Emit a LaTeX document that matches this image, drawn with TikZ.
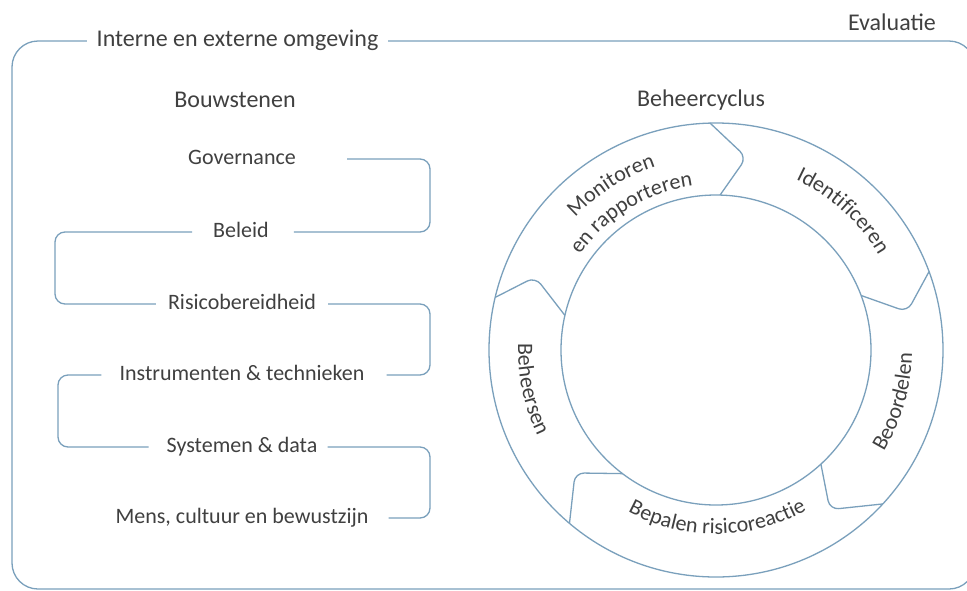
\documentclass[tikz,border=0pt]{standalone}
\usepackage{fontspec}
\setmainfont{Carlito}
\usetikzlibrary{decorations.text}
\definecolor{ln}{RGB}{122,160,188}
\definecolor{txt}{RGB}{64,64,64}
\newcommand\itemfont{\fontsize{22}{26}\selectfont}
\newcommand\headfont{\fontsize{24}{28}\selectfont}
\newcommand\ringfont{\fontsize{22}{26}\selectfont\color{txt}}
\begin{document}
\begin{tikzpicture}[x=1pt,y=1pt,
  conn/.style={draw=ln, line width=1.3pt, rounded corners=10pt},
  ringline/.style={draw=ln, line width=1.3pt},
  item/.style={text=txt, font=\itemfont, inner sep=0pt, text height=15pt, text depth=4pt},
  head/.style={text=txt, font=\headfont, inner sep=0pt},
  ringlab/.style={decorate, decoration={text along path, text align=center, text={|\ringfont|#1}}}
]
\useasboundingbox (0,0) rectangle (967,-590);
\fill[white] (0,0) rectangle (967,-590);

% frame
\draw[ln, line width=1.3pt, rounded corners=26pt] (12,-41) rectangle (975,-589);
\node[head, fill=white, inner xsep=10pt, inner ysep=2pt] (env) at (237.5,-40) {Interne en externe omgeving};
\node[head] (eval) at (892,-22) {Evaluatie};
\node[head] (bouw) at (235,-100) {Bouwstenen};
\node[head] (cyc) at (701,-100) {Beheercyclus};

% building blocks
\node[item] (gov) at (242,-159) {Governance};
\node[item] (bel) at (241,-232) {Beleid};
\node[item] (ris) at (242,-304) {Risicobereidheid};
\node[item] (ins) at (242,-375) {Instrumenten \& technieken};
\node[item] (sys) at (242,-447) {Systemen \& data};
\node[item] (mens) at (242,-518) {Mens, cultuur en bewustzijn};

\coordinate (R) at (430,0);
\coordinate (LA) at (55,0);
\coordinate (LB) at (58,0);

\draw[conn] ([xshift=51pt]gov.east) -- (gov.east -| R) -- (bel.east -| R) -- ([xshift=25pt]bel.east);
\draw[conn] ([xshift=-21pt]bel.west) -- (bel.west -| LA) -- (ris.west -| LA) -- ([xshift=-12pt]ris.west);
\draw[conn] ([xshift=12pt]ris.east) -- (ris.east -| R) -- (ins.east -| R) -- ([xshift=22pt]ins.east);
\draw[conn] ([xshift=-18pt]ins.west) -- (ins.west -| LB) -- (sys.west -| LB) -- ([xshift=-18pt]sys.west);
\draw[conn] ([xshift=10pt]sys.east) -- (sys.east -| R) -- (mens.east -| R) -- ([xshift=20pt]mens.east);

% management cycle
\begin{scope}[shift={(716,-350)}]
  \node[ringline, circle, minimum size=454pt, inner sep=0pt] (outer) at (0,0) {};
  \node[ringline, circle, minimum size=310pt, inner sep=0pt] (inner) at (0,0) {};
  \draw[ringline, rounded corners=9pt] (91.5:227) -- (81:195) -- (88.5:155);
  \draw[ringline, rounded corners=9pt] (20.2:227) -- (11.3:195) -- (20.6:155);
  \draw[ringline, rounded corners=9pt] (-42.7:227) -- (-54.5:196) -- (-47.4:155);
  \draw[ringline, rounded corners=9pt] (229.8:227) -- (221.1:187) -- (232.9:155);
  \draw[ringline, rounded corners=9pt] (166.6:227) -- (158:195) -- (167.1:155);

  \path[ringlab={Identificeren}] (72.5:188) arc[start angle=72.5, end angle=22.5, radius=188];
  \path[ringlab={Monitoren}] (150:193) arc[start angle=150, end angle=95, radius=193];
  \path[ringlab={en rapporteren}] (155:166) arc[start angle=155, end angle=88, radius=166];
  \path[ringlab={Beoordelen}] (-45:196) arc[start angle=-45, end angle=13, radius=196];
  \path[ringlab={Bepalen risicoreactie}] (230:184) arc[start angle=230, end angle=311, radius=184];
  \path[ringlab={Beheersen}] (165:198) arc[start angle=165, end angle=219, radius=198];
\end{scope}
\end{tikzpicture}
\end{document}
